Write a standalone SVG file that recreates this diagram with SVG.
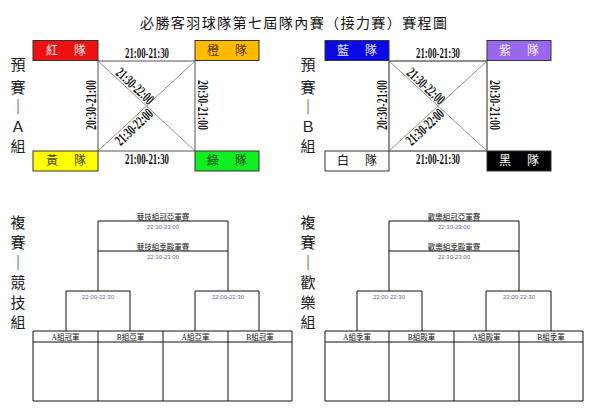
<svg xmlns="http://www.w3.org/2000/svg" width="600" height="414" viewBox="0 0 600 414">
<style>
.cjk{font-family:"Liberation Serif","Noto Sans CJK TC",serif}
.title{font-size:14px;fill:#111}
.side{font-size:15px;fill:#222;text-anchor:middle;dominant-baseline:central}
.box{stroke:#333;stroke-width:1}
.bt{font-size:12px;text-anchor:middle;dominant-baseline:central}
.tm{font-family:"Liberation Serif",serif;font-weight:bold;font-size:15px;fill:#111;text-anchor:middle;dominant-baseline:central}
.ln{stroke:#555;stroke-width:1;fill:none}
.lnd{stroke:#777;stroke-width:0.8;fill:none}
.br{stroke:#111;stroke-width:1;fill:none}
.bl{font-size:7.5px;fill:#111;text-anchor:middle;dominant-baseline:central}
.bs{font-family:"Liberation Sans",sans-serif;font-size:6px;fill:#6a6a9a;text-anchor:middle;dominant-baseline:central}
</style>
<rect width="600" height="414" fill="#fff"/>
<text id="title" class="cjk title" x="140" y="28" textLength="307" lengthAdjust="spacing">必勝客羽球隊第七屆隊內賽（接力賽）賽程圖</text>

<g id="label-A" class="cjk side">
<text x="18" y="65">預</text><text x="18" y="88">賽</text><text x="18" y="107">｜</text><text x="18" y="127">Ａ</text><text x="18" y="147">組</text>
</g>
<g id="label-B" class="cjk side">
<text x="308" y="65">預</text><text x="308" y="88">賽</text><text x="308" y="107">｜</text><text x="308" y="127">Ｂ</text><text x="308" y="147">組</text>
</g>
<g id="label-C" class="cjk side">
<text x="18" y="223">複</text><text x="18" y="243">賽</text><text x="18" y="263">｜</text><text x="18" y="283">競</text><text x="18" y="303">技</text><text x="18" y="323">組</text>
</g>
<g id="label-D" class="cjk side">
<text x="308" y="223">複</text><text x="308" y="243">賽</text><text x="308" y="263">｜</text><text x="308" y="283">歡</text><text x="308" y="303">樂</text><text x="308" y="323">組</text>
</g>

<g id="connectors">
<g class="ln">
<path d="M98 61H195V151H98Z"/>
<path d="M389 61H487V151H389Z" stroke="#222"/>
</g>
<g class="lnd">
<path d="M98 61L195 151M98 151L195 61"/>
<path d="M389 61L487 151M389 151L487 61"/>
</g>
<g class="br">
<path d="M98 291V221H228V291M98 251H228"/>
<path d="M66 331V291H130V331M195 331V291H259V331"/>
<path d="M389 291V221H519V291M389 251H519"/>
<path d="M357 331V291H422V331M486 331V291H551V331"/>
</g>
</g>

<g id="times">
<text class="tm" x="147" y="53" textLength="44" lengthAdjust="spacingAndGlyphs">21:00-21:30</text>
<text class="tm" x="147" y="159" textLength="44" lengthAdjust="spacingAndGlyphs">21:00-21:30</text>
<text class="tm" transform="translate(91,105) rotate(-90)" textLength="50" lengthAdjust="spacingAndGlyphs">20:30-21:00</text>
<text class="tm" transform="translate(203,105) rotate(90)" textLength="50" lengthAdjust="spacingAndGlyphs">20:30-21:00</text>
<text class="tm" transform="translate(135,86) rotate(43)" textLength="46" lengthAdjust="spacingAndGlyphs">21:30-22:00</text>
<text class="tm" transform="translate(134,127) rotate(-43)" textLength="46" lengthAdjust="spacingAndGlyphs">21:30-22:00</text>
<text class="tm" x="438" y="53" textLength="44" lengthAdjust="spacingAndGlyphs">21:00-21:30</text>
<text class="tm" x="438" y="159" textLength="44" lengthAdjust="spacingAndGlyphs">21:00-21:30</text>
<text class="tm" transform="translate(382,105) rotate(-90)" textLength="50" lengthAdjust="spacingAndGlyphs">20:30-21:00</text>
<text class="tm" transform="translate(495,105) rotate(90)" textLength="50" lengthAdjust="spacingAndGlyphs">20:30-21:00</text>
<text class="tm" transform="translate(426,86) rotate(43)" textLength="46" lengthAdjust="spacingAndGlyphs">21:30-22:00</text>
<text class="tm" transform="translate(425,127) rotate(-43)" textLength="46" lengthAdjust="spacingAndGlyphs">21:30-22:00</text>
</g>

<g id="team-red"><rect class="box" x="33" y="40.5" width="65" height="20" fill="#ee1111"/><text class="cjk bt" y="51" fill="#ffe8e8"><tspan x="52">紅</tspan><tspan x="80">隊</tspan></text></g>
<g id="team-orange"><rect class="box" x="195" y="40.5" width="64" height="20" fill="#ffbb00"/><text class="cjk bt" y="51" fill="#553300"><tspan x="213">橙</tspan><tspan x="241">隊</tspan></text></g>
<g id="team-yellow"><rect class="box" x="33" y="151" width="65" height="20" fill="#ffff00"/><text class="cjk bt" y="161" fill="#444400"><tspan x="52">黃</tspan><tspan x="80">隊</tspan></text></g>
<g id="team-green"><rect class="box" x="195" y="151" width="64" height="20" fill="#11ee22"/><text class="cjk bt" y="161" fill="#114411"><tspan x="213">綠</tspan><tspan x="241">隊</tspan></text></g>
<g id="team-blue"><rect class="box" x="325" y="40.5" width="64" height="20" fill="#0a0ae6"/><text class="cjk bt" y="51" fill="#e8e8ff"><tspan x="343">藍</tspan><tspan x="371">隊</tspan></text></g>
<g id="team-purple"><rect class="box" x="487" y="40.5" width="64" height="20" fill="#9966ee"/><text class="cjk bt" y="51" fill="#f4eeff"><tspan x="505">紫</tspan><tspan x="533">隊</tspan></text></g>
<g id="team-white"><rect class="box" x="325" y="151" width="64" height="20" fill="#ffffff"/><text class="cjk bt" y="161" fill="#111"><tspan x="343">白</tspan><tspan x="371">隊</tspan></text></g>
<g id="team-black"><rect class="box" x="487" y="151" width="64" height="20" fill="#000000"/><text class="cjk bt" y="161" fill="#fff"><tspan x="505">黑</tspan><tspan x="533">隊</tspan></text></g>

<g id="final-C">
<text class="cjk bl" x="163" y="217">競技組冠亞軍賽</text><text class="bs" x="163" y="227">22:30-23:00</text>
<text class="cjk bl" x="163" y="247">競技組季殿軍賽</text><text class="bs" x="163" y="257">22:30-23:00</text>
</g>
<g id="semi-C1"><text class="bs" x="98" y="297">22:00-22:30</text></g>
<g id="semi-C2"><text class="bs" x="228" y="297">22:00-22:30</text></g>
<g id="table-C">
<path class="br" d="M33 331H292V401H33ZM33 342H292M98 331V401M163 331V401M228 331V401"/>
<text class="cjk bl" x="65.5" y="337">A組冠軍</text>
<text class="cjk bl" x="130.5" y="337">B組亞軍</text>
<text class="cjk bl" x="195.5" y="337">A組亞軍</text>
<text class="cjk bl" x="260" y="337">B組冠軍</text>
</g>

<g id="final-D">
<text class="cjk bl" x="454" y="217">歡樂組冠亞軍賽</text><text class="bs" x="454" y="227">22:30-23:00</text>
<text class="cjk bl" x="454" y="247">歡樂組季殿軍賽</text><text class="bs" x="454" y="257">22:30-23:00</text>
</g>
<g id="semi-D1"><text class="bs" x="389" y="297">22:00-22:30</text></g>
<g id="semi-D2"><text class="bs" x="519" y="297">22:00-22:30</text></g>
<g id="table-D">
<path class="br" d="M325 331H583V401H325ZM325 342H583M389 331V401M454 331V401M519 331V401"/>
<text class="cjk bl" x="357" y="337">A組季軍</text>
<text class="cjk bl" x="421.5" y="337">B組殿軍</text>
<text class="cjk bl" x="486.5" y="337">A組殿軍</text>
<text class="cjk bl" x="551" y="337">B組季軍</text>
</g>
</svg>
